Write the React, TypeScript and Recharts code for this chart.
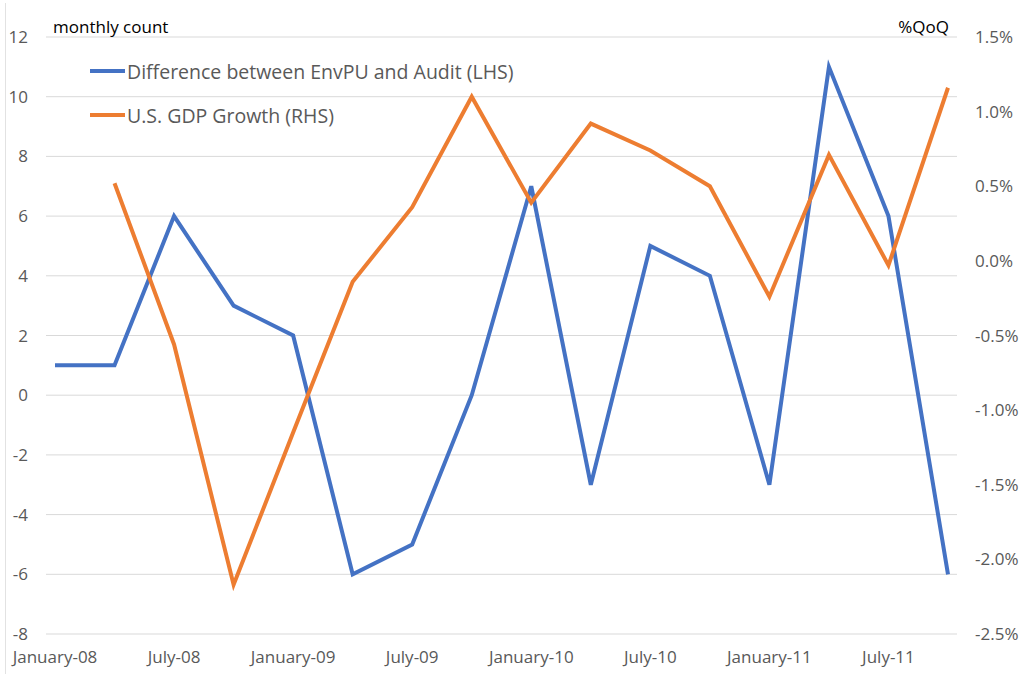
import React from "react";
import {
  LineChart,
  Line,
  XAxis,
  YAxis,
  CartesianGrid,
  Legend,
} from "recharts";

// quarterly observations, Jan-08 .. Oct-11
const quarters = [
  "January-08", "April-08", "July-08", "October-08",
  "January-09", "April-09", "July-09", "October-09",
  "January-10", "April-10", "July-10", "October-10",
  "January-11", "April-11", "July-11", "October-11",
];

// Difference between EnvPU and Audit (monthly count, LHS)
const diffCount = [1, 1, 6, 3, 2, -6, -5, 0, 7, -3, 5, 4, -3, 11, 6, -6];

// U.S. GDP growth, % QoQ (RHS)
const gdpGrowth = [
  null, 0.52, -0.56, -2.17, -1.15, -0.14, 0.36, 1.1,
  0.39, 0.92, 0.74, 0.5, -0.24, 0.71, -0.03, 1.16,
];

const leftTicks = [-8, -6, -4, -2, 0, 2, 4, 6, 8, 10, 12];
const rightTicks = [-2.5, -2, -1.5, -1, -0.5, 0, 0.5, 1, 1.5];

const BLUE = "#4472C4";
const ORANGE = "#ED7D31";
const FONT = "'Open Sans', sans-serif";

const data = quarters.map((q, i) => ({
  quarter: q,
  diff: diffCount[i],
  gdp: gdpGrowth[i],
}));

const renderLegend = (props: any) => {
  const { payload = [] } = props;
  return (
    <div style={{ fontFamily: FONT }}>
      {payload.map((entry: any) => (
        <div
          key={entry.value}
          style={{
            display: "flex",
            alignItems: "center",
            height: 44,
            whiteSpace: "nowrap",
          }}
        >
          <span
            style={{
              display: "inline-block",
              width: 35,
              height: 4,
              background: entry.color,
              marginRight: 2,
            }}
          />
          <span style={{ fontSize: 19.5, color: "#595959" }}>
            {entry.value}
          </span>
        </div>
      ))}
    </div>
  );
};

export default function App() {
  return (
    <div
      style={{
        position: "absolute",
        left: 0,
        top: 0,
        width: 1025,
        height: 674,
        background: "#fff",
        overflow: "hidden",
      }}
    >
      <div
        style={{
          position: "absolute",
          left: 5,
          top: 3,
          width: 1,
          height: 671,
          background: "#e2e2e2",
        }}
      />
      <LineChart
        width={1025}
        height={674}
        data={data}
        margin={{ top: 37, right: 0, bottom: 0, left: 0 }}
      >
        <CartesianGrid
          vertical={false}
          stroke="#d9d9d9"
          strokeWidth={1}
          yAxisId="left"
        />
        <XAxis
          dataKey="quarter"
          interval={1}
          padding={{ left: 9, right: 9 }}
          axisLine={false}
          tickLine={false}
          tickSize={0}
          tickMargin={17}
          height={40}
          tick={{ fill: "#595959", fontSize: 17, fontFamily: FONT }}
        />
        <YAxis
          yAxisId="left"
          orientation="left"
          domain={[-8, 12]}
          ticks={leftTicks}
          width={46}
          axisLine={false}
          tickLine={false}
          tickSize={0}
          tickMargin={18}
          tick={{ fill: "#595959", fontSize: 17, fontFamily: FONT }}
        />
        <YAxis
          yAxisId="right"
          orientation="right"
          domain={[-2.5, 1.5]}
          ticks={rightTicks}
          width={68}
          axisLine={false}
          tickLine={false}
          tickSize={0}
          tickMargin={18}
          tickFormatter={(v: number) => `${v.toFixed(1)}%`}
          tick={{
            fill: "#595959",
            fontSize: 17,
            fontFamily: FONT,
            textAnchor: "start",
          }}
        />
        <Legend
          layout="vertical"
          align="center"
          verticalAlign="middle"
          content={renderLegend}
          wrapperStyle={{ left: 90, top: 49, width: "auto" }}
        />
        <Line
          yAxisId="left"
          type="linear"
          dataKey="diff"
          name="Difference between EnvPU and Audit (LHS)"
          stroke={BLUE}
          strokeWidth={4}
          dot={false}
          isAnimationActive={false}
        />
        <Line
          yAxisId="right"
          type="linear"
          dataKey="gdp"
          name="U.S. GDP Growth (RHS)"
          stroke={ORANGE}
          strokeWidth={4}
          dot={false}
          isAnimationActive={false}
        />
      </LineChart>
      <div
        style={{
          position: "absolute",
          left: 53,
          top: 16,
          fontFamily: FONT,
          fontSize: 17,
          color: "#000",
          lineHeight: "22px",
        }}
      >
        monthly count
      </div>
      <div
        style={{
          position: "absolute",
          right: 1025 - 949,
          top: 16,
          fontFamily: FONT,
          fontSize: 17,
          color: "#000",
          lineHeight: "22px",
        }}
      >
        %QoQ
      </div>
    </div>
  );
}
